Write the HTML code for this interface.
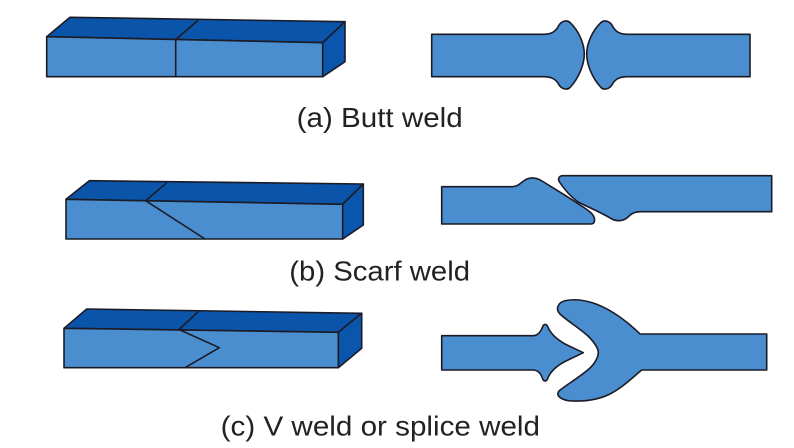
<!DOCTYPE html>
<html>
<head>
<meta charset="utf-8">
<style>
  html, body { margin: 0; padding: 0; background: #ffffff; }
  svg { display: block; }
  text { font-family: "Liberation Sans", Arial, sans-serif; fill: #222222; }
</style>
</head>
<body>
<svg width="794" height="448" viewBox="0 0 794 448" xmlns="http://www.w3.org/2000/svg">
  <g stroke="#1b1b26" stroke-width="1.6" stroke-linejoin="round">
    <!-- (a) Butt weld: 3D bar -->
    <polygon points="46.7,36.7 70,17.3 345,21.7 322.7,42.7" fill="#0a54a9"/>
    <polygon points="322.7,42.7 345,21.7 345,61.7 322.7,76.7" fill="#0b56ad"/>
    <polygon points="46.7,36.7 322.7,42.7 322.7,76.7 46.7,76.7" fill="#4a8ed0"/>
    <line x1="175.7" y1="39.5" x2="175.7" y2="76.7"/>
    <line x1="175.7" y1="39.5" x2="198.3" y2="20"/>

    <!-- (a) Butt weld: cross-section -->
    <path d="M431.7,34.3 H543 C552,34.3 556,31 558.5,26 C561,21 567,19.5 570,22.5 C579,31 584.3,44 584.3,54 C584.3,64 579,78 570,87.5 C567,90.5 561,89 558.5,84 C556,79.5 552,76.7 543,76.7 H431.7 Z" fill="#4a8ed0"/>
    <path d="M750,34.3 H628 C619,34.3 615,31 612.5,26 C610,21 604,19.5 601,22.5 C592,31 586.7,44 586.7,54 C586.7,64 592,78 601,87.5 C604,90.5 610,89 612.5,84 C615,79.5 619,76.7 628,76.7 H750 Z" fill="#4a8ed0"/>

    <!-- (b) Scarf weld: 3D bar -->
    <polygon points="66,199.3 89.3,180.7 363.3,184 342.7,204.3" fill="#0a54a9"/>
    <polygon points="342.7,204.3 363.3,184 363.3,225 342.7,239" fill="#0b56ad"/>
    <polygon points="66,199.3 342.7,204.3 342.7,239 66,239" fill="#4a8ed0"/>
    <line x1="145.7" y1="200.7" x2="166.7" y2="182.7"/>
    <line x1="145.7" y1="200.7" x2="205" y2="239"/>

    <!-- (b) Scarf weld: cross-section -->
    <path d="M441.7,186.7 H512 C519,186.7 522,181 527,179 C532,177 537,178 542,181 C555,189 570,198 580,205 C588,210 594,214 594.5,219 C595,224 592,224 590,224 H441.7 Z" fill="#4a8ed0"/>
    <path d="M563,175.7 H771.7 V211.7 H641 C634,211.7 631,214 628,217 C624,221 617,222 611,218.5 C600,212 588,207 578,202 C570,196 564,189 559.5,182 C557.5,179 559,175.7 563,175.7 Z" fill="#4a8ed0"/>

    <!-- (c) V weld: 3D bar -->
    <polygon points="64,328.3 86.7,309 361.7,313.3 338.3,332.3" fill="#0a54a9"/>
    <polygon points="338.3,332.3 361.7,313.3 361.7,348.3 338.3,367.7" fill="#0b56ad"/>
    <polygon points="64,328.3 338.3,332.3 338.3,367.7 64,367.7" fill="#4a8ed0"/>
    <line x1="179" y1="329.5" x2="198.3" y2="311.7"/>
    <polyline points="179,329.5 219.3,347.7 185,367.7" fill="none"/>

    <!-- (c) V weld: cross-section -->
    <path d="M441.7,335.7 H533 C538,335.7 541,331 542.5,327 C543.5,324 546,323.5 547.5,326 C550,333 556,339 566,344.5 L583.3,352.7 L566,361 C556,366 550,372 547.5,379 C546,382 543.5,381.5 542.5,378.5 C541,374 538,370 533,370 H441.7 Z" fill="#4a8ed0"/>
    <path d="M766.7,334 V370 H641.7 C632,378 622,388 610,394 C598,400 585,401.5 572,401 C562,400.5 555,396 559,391 C566,385 580,377 590,368 C596,362 598.3,356 598.3,352.7 C598.3,348 594,342 588,336 C578,327 566,320 560,314 C555,309 558,302 566,300.5 C574,299 585,300 596,304 C612,310 628,322 640,334 Z" fill="#4a8ed0"/>
  </g>

  <text x="296.7" y="127" font-size="28" textLength="166" lengthAdjust="spacingAndGlyphs">(a) Butt weld</text>
  <text x="289.3" y="280.5" font-size="28" textLength="180.7" lengthAdjust="spacingAndGlyphs">(b) Scarf weld</text>
  <text x="220.7" y="435.5" font-size="28" textLength="319.3" lengthAdjust="spacingAndGlyphs">(c) V weld or splice weld</text>
</svg>
</body>
</html>
